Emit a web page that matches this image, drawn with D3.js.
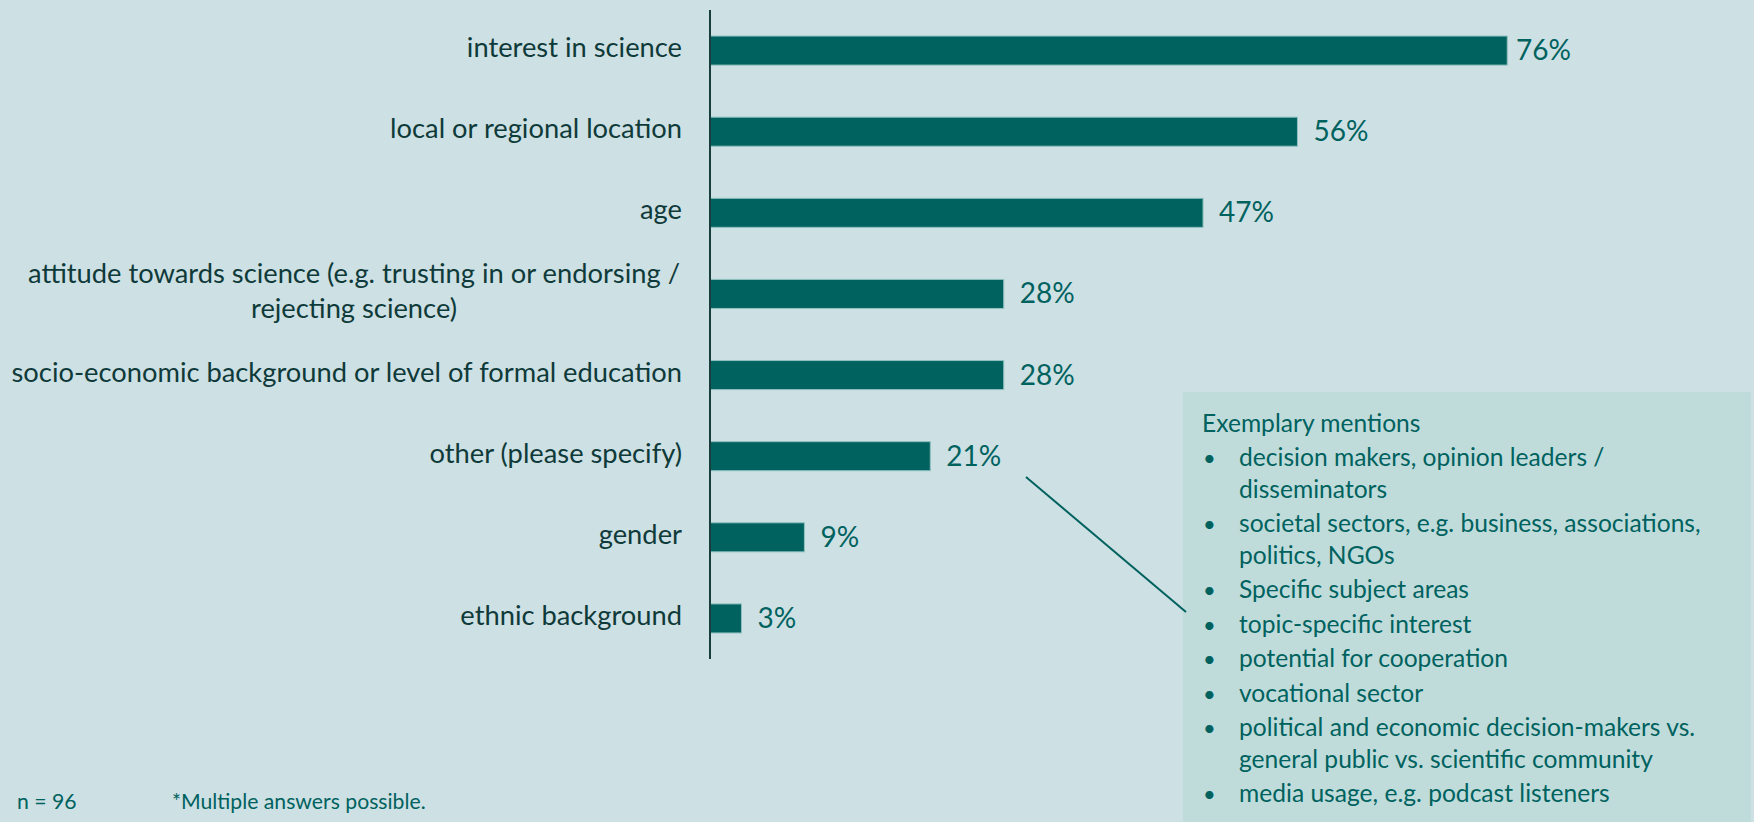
<!DOCTYPE html>
<html>
<head>
<meta charset="utf-8">
<script src="https://cdn.jsdelivr.net/npm/d3@7"></script>
<style>
  html, body { margin: 0; padding: 0; background: #cde0e3; }
  svg { display: block; }
  text { font-family: Lato, "Open Sans", sans-serif; }
</style>
</head>
<body>
<svg id="chart" width="1754" height="822"></svg>
<script>
// ---- data ----
const categories = [
  "interest in science",
  "local or regional location",
  "age",
  "attitude towards science (e.g. trusting in or endorsing /\nrejecting science)",
  "socio-economic background or level of formal education",
  "other (please specify)",
  "gender",
  "ethnic background"
];
const values = [76, 56, 47, 28, 28, 21, 9, 3];
const calloutTitle = "Exemplary mentions";
const calloutItems = [
  ["decision makers, opinion leaders /", "disseminators"],
  ["societal sectors, e.g. business, associations,", "politics, NGOs"],
  ["Specific subject areas"],
  ["topic-specific interest"],
  ["potential for cooperation"],
  ["vocational sector"],
  ["political and economic decision-makers vs.", "general public vs. scientific community"],
  ["media usage, e.g. podcast listeners"]
];
const footN = "n = 96";
const footNote = "*Multiple answers possible.";

// ---- layout ----
const W = 1754, H = 822;
const svg = d3.select("#chart");
svg.append("rect").attr("width", W).attr("height", H).attr("fill", "#cde0e3");

const x = d3.scaleLinear().domain([0, 100]).range([710, 1759]);
const y = d3.scaleBand().domain(categories).range([10, 659]).paddingInner(0.642).paddingOuter(0.321);

const barColor = "#00625f";
const data = categories.map((c, i) => ({ c, v: values[i] }));

// callout box
const box = { x: 1183, y: 392, w: 568, h: 440 };
svg.append("rect").attr("x", box.x).attr("y", box.y).attr("width", box.w).attr("height", box.h)
  .attr("fill", "#bfdcdb");

// bars
svg.append("g").selectAll("rect").data(data).join("rect")
  .attr("x", x(0))
  .attr("y", d => y(d.c))
  .attr("width", d => x(d.v) - x(0))
  .attr("height", y.bandwidth())
  .attr("fill", barColor)
  .attr("stroke", "#8fc1c0")
  .attr("stroke-width", 1);

// axis line
svg.append("line")
  .attr("x1", x(0)).attr("x2", x(0))
  .attr("y1", y.range()[0]).attr("y2", y.range()[1])
  .attr("stroke", "#173d3d").attr("stroke-width", 2);

// category labels
const labG = svg.append("g");
data.forEach(d => {
  const lines = d.c.split("\n");
  const cy = y(d.c) + y.bandwidth() / 2;
  const n = lines.length;
  const t = labG.append("text")
    .attr("fill", "#0f3a3a")
    .attr("font-size", 27.3)
    .attr("text-anchor", n > 1 ? "middle" : "end");
  lines.forEach((ln, i) => {
    t.append("tspan")
      .attr("x", n > 1 ? 354 : x(0) - 28)
      .attr("y", cy + 6.5 + 35 * (i - (n - 1) / 2))
      .text(ln);
  });
});

// value labels
svg.append("g").selectAll("text").data(data).join("text")
  .attr("x", d => Math.min(x(d.v) + 16, 1516))
  .attr("y", d => y(d.c) + y.bandwidth() / 2 + 9.5)
  .attr("fill", "#00625f")
  .attr("font-size", 28)
  .text(d => d.v + "%");

// connector line
svg.append("line")
  .attr("x1", 1026).attr("y1", 477)
  .attr("x2", 1186).attr("y2", 612)
  .attr("stroke", "#00625f").attr("stroke-width", 2);

// callout text
const cg = svg.append("g").attr("fill", "#00625f").attr("font-size", 24.6);
cg.append("text").attr("x", 1202).attr("y", 432).text(calloutTitle);
let by = 466;
calloutItems.forEach(item => {
  cg.append("text").attr("x", 1203).attr("y", by).attr("font-size", 22).text("\u2022");
  item.forEach((ln, j) => {
    cg.append("text").attr("x", 1239).attr("y", by + j * 31.5).text(ln);
  });
  by += (item.length - 1) * 31.5 + 34.5;
});

// footnotes
svg.append("text").attr("x", 17).attr("y", 809).attr("fill", "#00625f").attr("font-size", 21.2).text(footN);
svg.append("text").attr("x", 172).attr("y", 809).attr("fill", "#00625f").attr("font-size", 21.2).text(footNote);
</script>
</body>
</html>
